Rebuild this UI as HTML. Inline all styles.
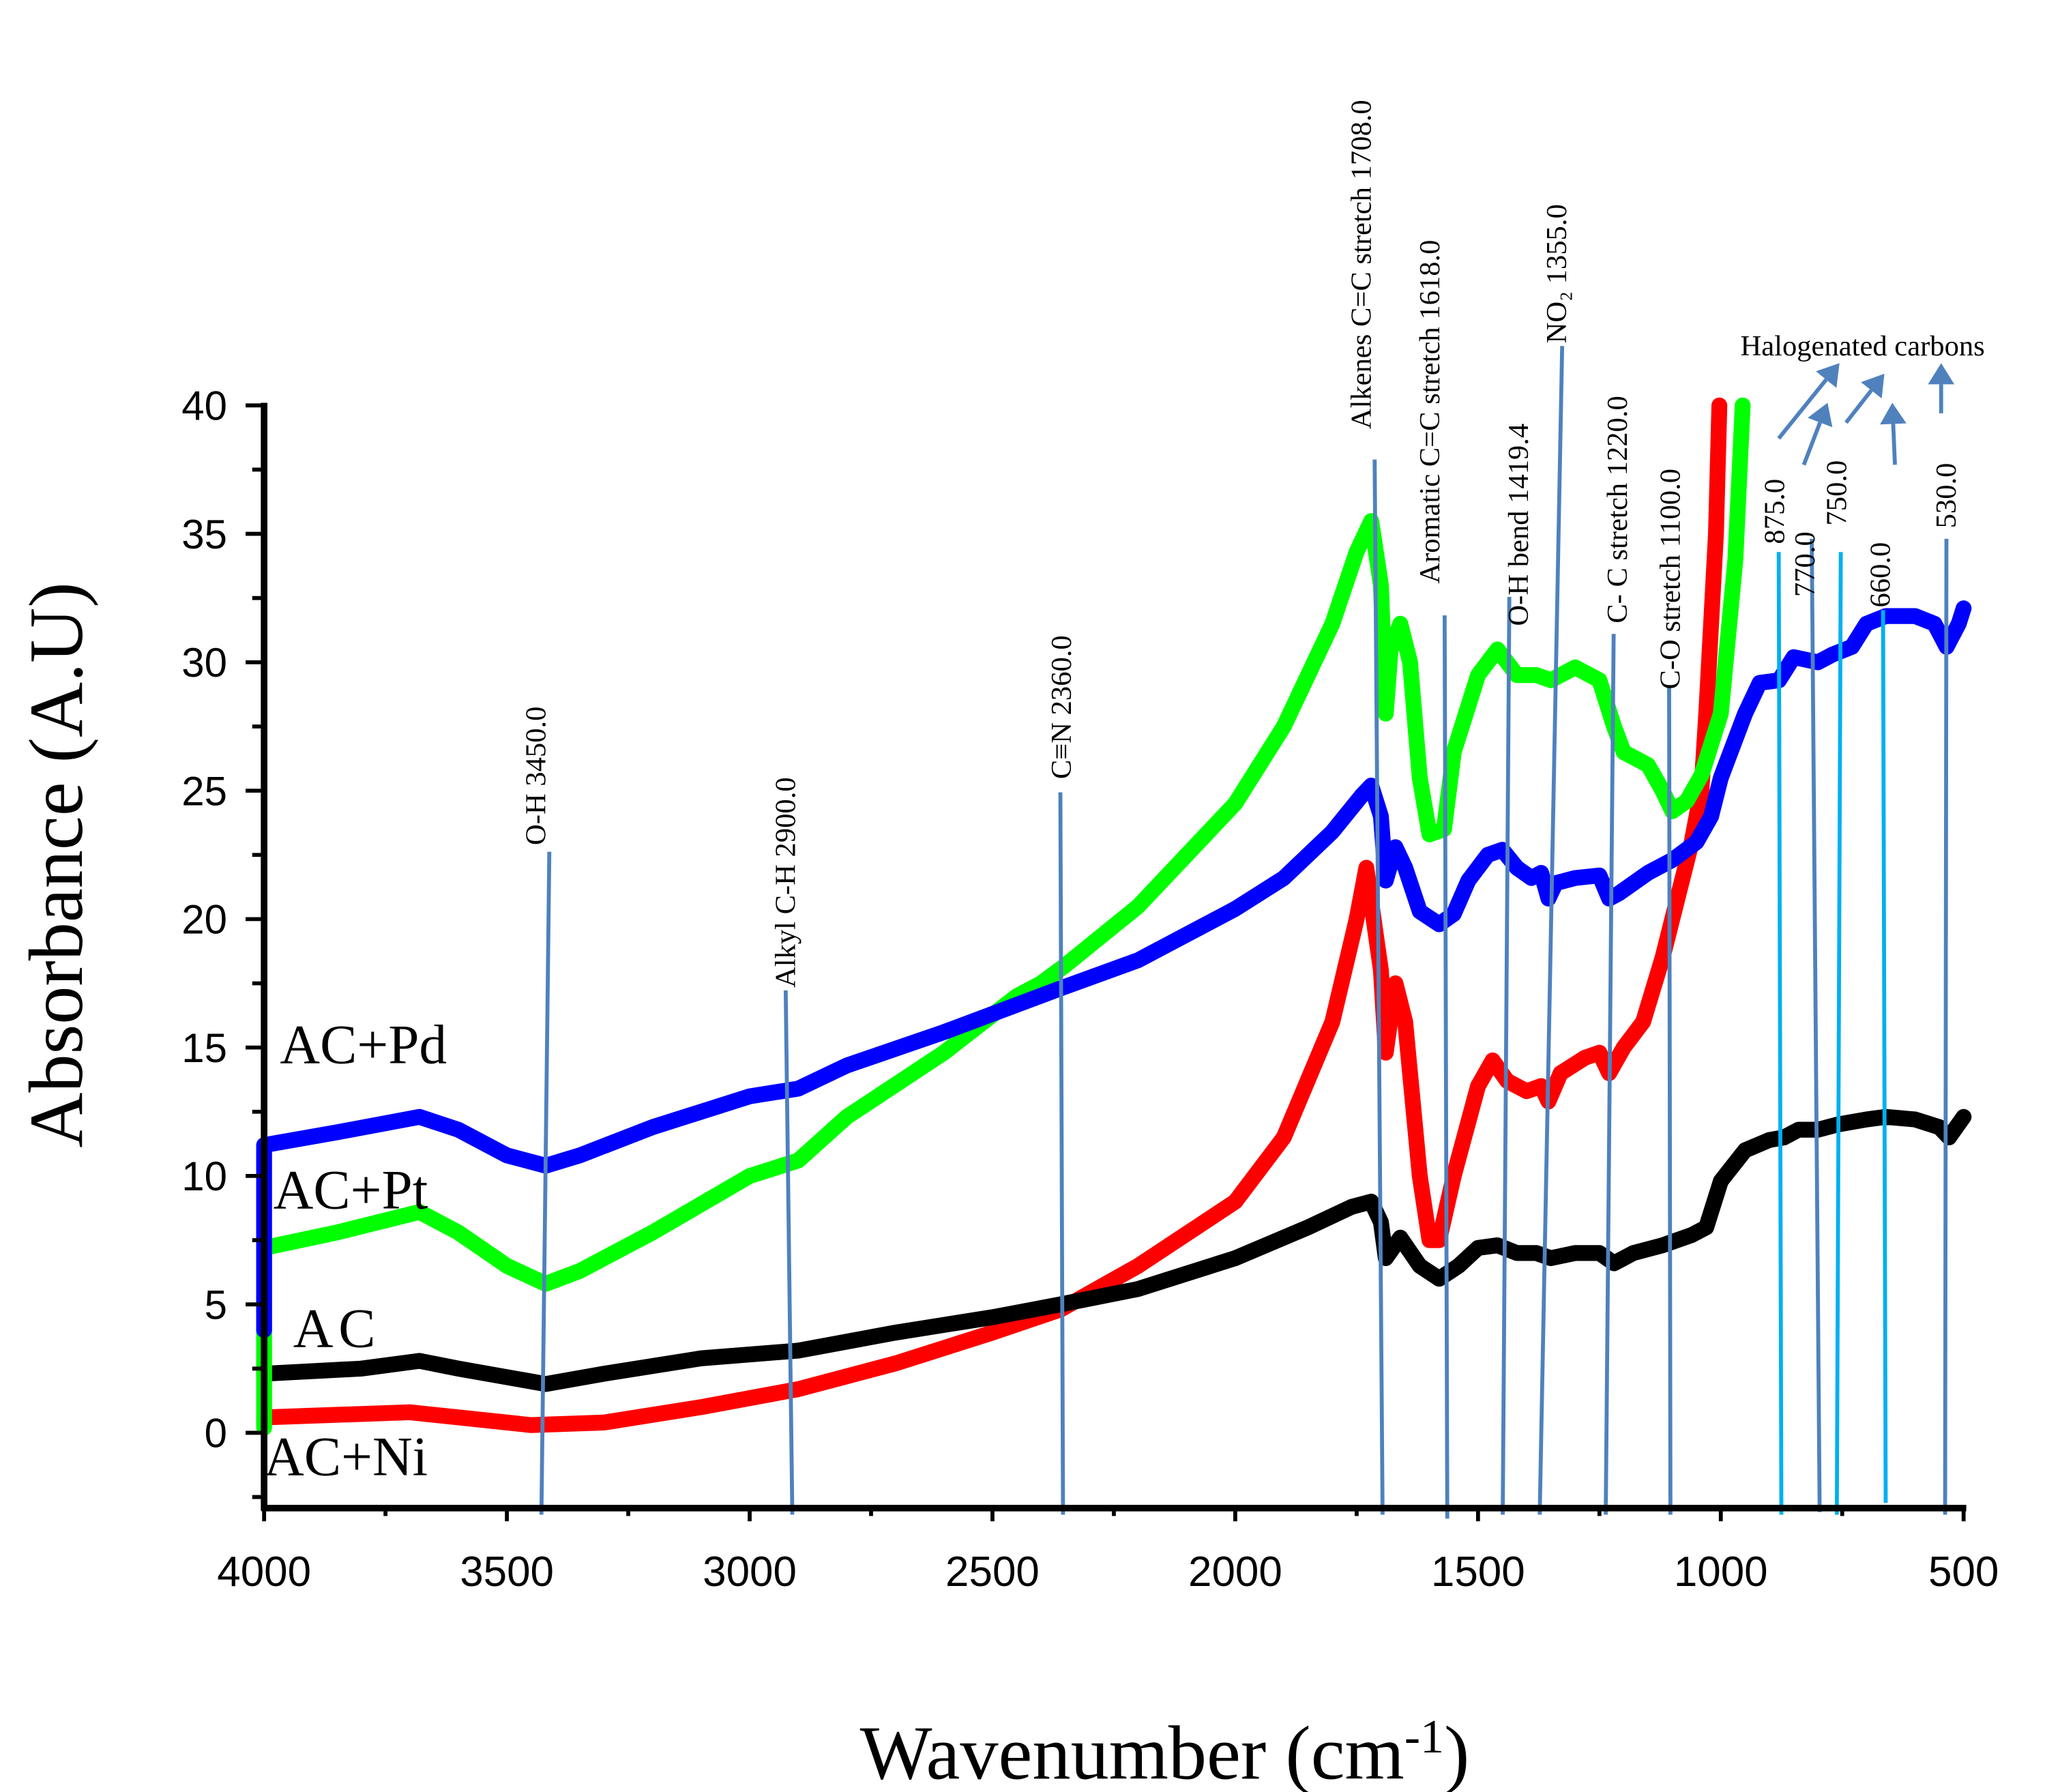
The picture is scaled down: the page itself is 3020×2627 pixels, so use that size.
<!DOCTYPE html>
<html><head><meta charset="utf-8"><style>
html,body{margin:0;padding:0;background:#fff;}
svg{display:block;}
</style></head><body>
<svg id="chart" width="3020" height="2627" viewBox="0 0 1560 1357" xmlns="http://www.w3.org/2000/svg">
<g id="grid"></g>
<g id="plot"></g>
<g id="annot"></g>
<g id="axes"></g>
<text transform="translate(62,655) rotate(-90)" text-anchor="middle" font-family="Liberation Serif, serif" font-size="58">Absorbance (A.U)</text>
<text x="882" y="1347" text-anchor="middle" font-family="Liberation Serif, serif" font-size="58">Wavenumber (cm<tspan dy="-20" font-size="36">-1</tspan><tspan dy="20">)</tspan></text>
<text x="212" y="805" font-family="Liberation Serif, serif" font-size="42">AC+Pd</text>
<text x="207" y="915" font-family="Liberation Serif, serif" font-size="42">AC+Pt</text>
<text x="222" y="1020" font-family="Liberation Serif, serif" font-size="42" letter-spacing="4">AC</text>
<text x="200" y="1117" font-family="Liberation Serif, serif" font-size="42">AC+Ni</text>
<text x="1318" y="269" font-family="Liberation Serif, serif" font-size="22">Halogenated carbons</text>
</svg>
<script>
const xTicks=[4000,3500,3000,2500,2000,1500,1000,500];
const yTicks=[0,5,10,15,20,25,30,35,40];
const wnPd=[4000,3850,3680,3600,3500,3420,3350,3200,3000,2900,2800,2600,2360,2200,2000,1900,1800,1740,1720,1700,1690,1670,1650,1620,1580,1550,1520,1480,1450,1420,1390,1370,1355,1340,1300,1250,1230,1210,1150,1100,1050,1020,1000,950,920,880,850,800,770,730,700,660,600,560,535,510,500];
const valPd=[11.2,11.7,12.3,11.8,10.8,10.4,10.8,11.9,13.1,13.4,14.3,15.6,17.3,18.4,20.4,21.6,23.4,24.8,25.2,24,21.5,22.8,22,20.3,19.8,20.2,21.5,22.5,22.7,22,21.6,21.8,20.8,21.4,21.6,21.7,20.8,21,21.8,22.3,23,24,25.5,28,29.2,29.3,30.2,30,30.3,30.6,31.5,31.8,31.8,31.5,30.6,31.5,32.1];
const wnPt=[4000,3850,3680,3600,3500,3420,3350,3200,3000,2900,2800,2600,2450,2400,2350,2200,2000,1900,1800,1750,1720,1700,1690,1680,1660,1640,1620,1600,1570,1550,1500,1460,1420,1380,1350,1300,1250,1220,1200,1150,1120,1100,1070,1040,1000,970,955];
const valPt=[7.2,7.8,8.6,7.8,6.5,5.8,6.3,7.8,10,10.6,12.3,14.8,17,17.5,18.2,20.5,24.5,27.5,31.5,34.3,35.5,33,28,30.5,31.5,30,25.5,23.3,23.5,26.5,29.5,30.5,29.5,29.5,29.3,29.8,29.3,27.5,26.5,26,25,24.2,24.6,25.6,28,34,40];
const wnNi=[4000,3700,3600,3450,3300,3100,2900,2700,2500,2360,2200,2000,1900,1800,1750,1730,1700,1690,1670,1650,1620,1600,1580,1550,1500,1470,1440,1400,1370,1355,1330,1280,1250,1230,1200,1160,1120,1100,1060,1040,1030,1010,1003];
const valNi=[0.6,0.8,0.6,0.3,0.4,1,1.7,2.7,3.9,4.8,6.5,9,11.5,16,20,22,18,14.8,17.5,16,10,7.5,7.5,10,13.5,14.5,13.7,13.3,13.5,12.9,14,14.6,14.8,14,15,16,18.5,20,23,25,28,35,40];
const wnAc=[4000,3800,3680,3600,3420,3300,3100,2900,2700,2500,2360,2200,2000,1850,1760,1720,1700,1690,1660,1620,1580,1540,1500,1460,1420,1380,1350,1300,1250,1220,1180,1120,1060,1030,1000,950,900,870,840,800,760,700,660,600,550,530,500];
const valAc=[2.3,2.5,2.8,2.5,1.9,2.3,2.9,3.2,3.9,4.5,5,5.6,6.8,8,8.8,9,8.2,6.8,7.6,6.5,6,6.5,7.2,7.3,7,7,6.8,7,7,6.6,7,7.3,7.7,8,9.8,11,11.4,11.5,11.8,11.8,12,12.2,12.3,12.2,11.9,11.5,12.3];
const NS='http://www.w3.org/2000/svg';
const X=w=>200+(4000-w)/3500*1287;
const Y=v=>1085-v*19.45;
function mk(tag,attrs,parent){const e=document.createElementNS(NS,tag);for(const k in attrs)e.setAttribute(k,attrs[k]);parent.appendChild(e);return e;}
const plot=document.getElementById('plot');
const axes=document.getElementById('axes');
const annot=document.getElementById('annot');
function series(wn,val,color,name,startV){
  let pts=[];
  if(startV!==undefined)pts.push(X(wn[0])+','+Y(startV));
  for(let i=0;i<wn.length;i++)pts.push(X(wn[i])+','+Y(Math.min(val[i],40.5)));
  const p=mk('polyline',{points:pts.join(' '),fill:'none',stroke:color,'stroke-width':12,'stroke-linejoin':'round','stroke-linecap':'round'},plot);
  
  
}
series(wnNi,valNi,'#ff0000','series-ac-ni');
series(wnAc,valAc,'#000000','series-ac');
series(wnPt,valPt,'#00ff00','series-ac-pt',0.2);
series(wnPd,valPd,'#0000ff','series-ac-pd',4);
const yl=mk('line',{x1:200,y1:305,x2:200,y2:1144,stroke:'#000','stroke-width':5},axes);


const xl=mk('line',{x1:198,y1:1142,x2:1489,y2:1142,stroke:'#000','stroke-width':5},axes);


for(let v=-2.5;v<=40;v+=2.5){
  const major=(v%5===0);
  mk('line',{x1:200-(major?14:9),y1:Y(v),x2:200,y2:Y(v),stroke:'#000','stroke-width':3},axes);
}
yTicks.forEach(v=>{
  const t=mk('text',{x:172,y:Y(v)+11,'text-anchor':'end','font-family':'Liberation Sans, sans-serif','font-size':31},axes);
  t.textContent=v;
  
  
});
for(let w=4000;w>=500;w-=250){
  const major=(w%500===0);
  mk('line',{x1:X(w),y1:1142,x2:X(w),y2:1142+(major?10:6),stroke:'#000','stroke-width':3},axes);
}
xTicks.forEach(w=>{
  const t=mk('text',{x:X(w),y:1201,'text-anchor':'middle','font-family':'Liberation Sans, sans-serif','font-size':32},axes);
  t.textContent=w;
  
  
});
const ann=[
 ['O-H  3450.0',416,645,410,1147,'#4f81bd',413,640],
 ['Alkyl C-H 2900.0',595,750,600,1147,'#4f81bd',602,748],
 ['C\u2261N 2360.0',803,600,805,1147,'#4f81bd',811,590],
 ['Alkenes C=C stretch 1708.0',1041,348,1047,1147,'#4f81bd',1038,325],
 ['Aromatic C=C  stretch  1618.0',1094,466,1096,1150,'#4f81bd',1090,442],
 ['O-H bend  1419.4',1143,452,1138,1147,'#4f81bd',1157,474],
 ['NO\u2082  1355.0',1183,262,1166,1147,'#4f81bd',1186,260],
 ['C- C  stretch 1220.0',1222,480,1216,1147,'#4f81bd',1232,472],
 ['C-O  stretch 1100.0',1264,520,1265,1147,'#4f81bd',1272,522],
 ['875.0',1347,418,1349,1147,'#00b0f0',1351,412],
 ['770.0',1372,408,1378,1145,'#4f81bd',1374,452],
 ['750.0',1394,418,1391,1147,'#00b0f0',1398,398],
 ['660.0',1426,462,1428,1138,'#00b0f0',1431,460],
 ['530.0',1474,408,1473,1147,'#4f81bd',1481,400]
];
ann.forEach(a=>{
  const l=mk('line',{x1:a[1],y1:a[2],x2:a[3],y2:a[4],stroke:a[5],'stroke-width':3},annot);
  
  
  const t=mk('text',{transform:`translate(${a[6]},${a[7]}) rotate(-90)`,'font-family':'Liberation Serif, serif','font-size':22},annot);
  t.textContent=a[0];
  
  
});
const arrows=[[1347,332,1393,275],[1366,352,1384,305],[1398,320,1427,283],[1435,352,1433,305],[1470,313,1470,275]];
arrows.forEach(a=>{
  const dx=a[2]-a[0],dy=a[3]-a[1],L=Math.hypot(dx,dy),ux=dx/L,uy=dy/L;
  const hl=16,hw=10;
  const bx=a[2]-ux*hl,by=a[3]-uy*hl;
  const g=mk('g',{},annot);
  
  
  mk('line',{x1:a[0],y1:a[1],x2:bx,y2:by,stroke:'#4f81bd','stroke-width':3},g);
  mk('polygon',{points:`${a[2]},${a[3]} ${bx-uy*hw},${by+ux*hw} ${bx+uy*hw},${by-ux*hw}`,fill:'#4f81bd'},g);
});
</script>
</body></html>
